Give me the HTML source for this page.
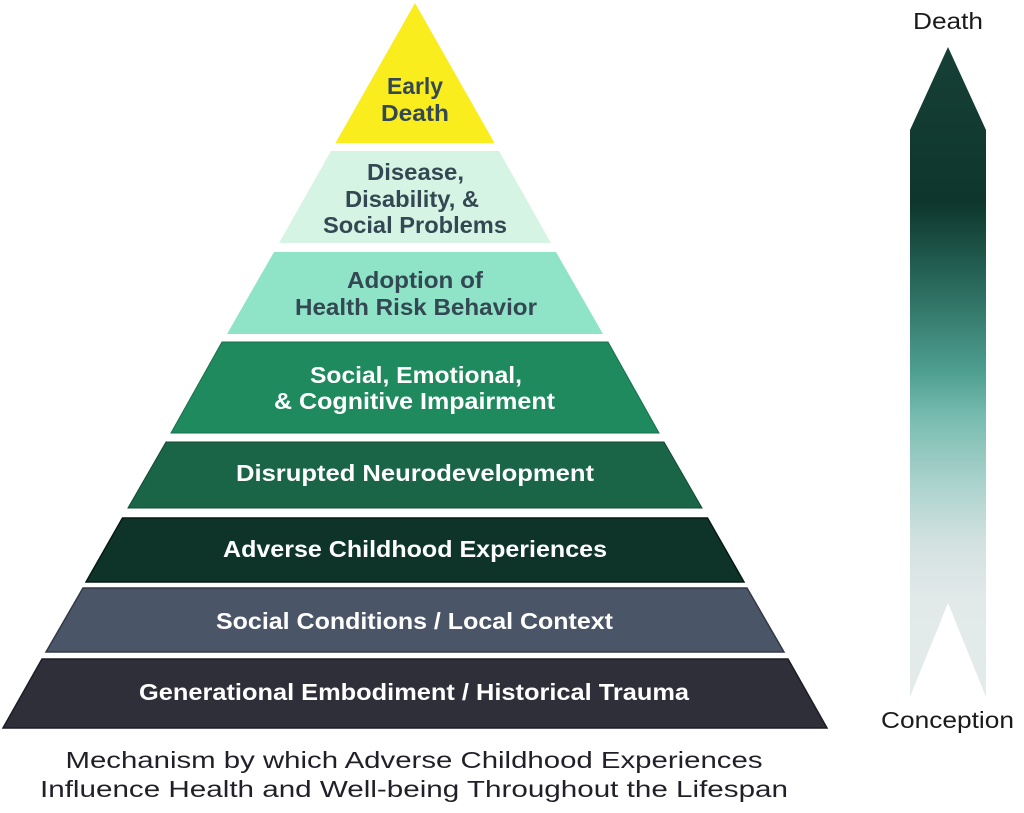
<!DOCTYPE html>
<html>
<head>
<meta charset="utf-8">
<style>
  html, body { margin: 0; padding: 0; background: #ffffff; }
  body { width: 1024px; height: 813px; overflow: hidden; }
  svg { display: block; }
  .lbl { font-family: "Liberation Sans", sans-serif; font-weight: bold; font-size: 23px; }
  .dk { fill: #334852; }
  .wt { fill: #ffffff; }
  .cap { font-family: "Liberation Sans", sans-serif; font-size: 23px; fill: #221f28; }
</style>
</head>
<body>
<svg width="1024" height="813" viewBox="0 0 1024 813" xmlns="http://www.w3.org/2000/svg">
  <defs>
    <linearGradient id="arr" x1="0" y1="47" x2="0" y2="697" gradientUnits="userSpaceOnUse">
      <stop offset="0" stop-color="#163f35"/>
      <stop offset="0.24" stop-color="#0e362c"/>
      <stop offset="0.37" stop-color="#2a6b5e"/>
      <stop offset="0.50" stop-color="#4f9f91"/>
      <stop offset="0.57" stop-color="#78bcb0"/>
      <stop offset="0.67" stop-color="#aad2cc"/>
      <stop offset="0.76" stop-color="#d2e1e0"/>
      <stop offset="0.85" stop-color="#e2e9e9"/>
      <stop offset="1" stop-color="#e4ebeb"/>
    </linearGradient>
  </defs>

  <!-- Pyramid layers -->
  <polygon points="415,3 494.5,143 335.5,143" fill="#f9ed1e"/>
  <polygon points="331,151 499,151 551,243 279,243" fill="#d5f4e4"/>
  <polygon points="274,252 556,252 603,334 227,334" fill="#8fe4c8"/>
  <polygon points="222,342 608,342 659,433 171,433" fill="#1e8a5e" stroke="#17704c" stroke-width="1"/>
  <polygon points="166,442 664,442 702,508 128,508" fill="#1a6447" stroke="#114a33" stroke-width="1"/>
  <polygon points="122.5,518 707.5,518 744,582 86,582" fill="#0e3429" stroke="#061a14" stroke-width="1.5"/>
  <polygon points="83,588 747,588 784,652 46,652" fill="#4a5568" stroke="#323a48" stroke-width="1.5"/>
  <polygon points="42,659 788,659 827,728 3,728" fill="#2f2f3a" stroke="#1c1c24" stroke-width="1.5"/>

  <!-- Layer labels -->
  <g class="lbl" text-anchor="middle">
    <text class="dk" x="415" y="94" textLength="56" lengthAdjust="spacingAndGlyphs">Early</text>
    <text class="dk" x="415" y="121" textLength="68" lengthAdjust="spacingAndGlyphs">Death</text>

    <text class="dk" x="415.5" y="180" textLength="97" lengthAdjust="spacingAndGlyphs">Disease,</text>
    <text class="dk" x="412" y="207" textLength="134" lengthAdjust="spacingAndGlyphs">Disability, &amp;</text>
    <text class="dk" x="415" y="233" textLength="184" lengthAdjust="spacingAndGlyphs">Social Problems</text>

    <text class="dk" x="415" y="288" textLength="136" lengthAdjust="spacingAndGlyphs">Adoption of</text>
    <text class="dk" x="416" y="315" textLength="242" lengthAdjust="spacingAndGlyphs">Health Risk Behavior</text>

    <text class="wt" x="416" y="383" textLength="212" lengthAdjust="spacingAndGlyphs">Social, Emotional,</text>
    <text class="wt" x="414.5" y="409" textLength="281" lengthAdjust="spacingAndGlyphs">&amp; Cognitive Impairment</text>

    <text class="wt" x="415" y="481" textLength="358" lengthAdjust="spacingAndGlyphs">Disrupted Neurodevelopment</text>
    <text class="wt" x="415" y="557" textLength="384" lengthAdjust="spacingAndGlyphs">Adverse Childhood Experiences</text>
    <text class="wt" x="414.5" y="629" textLength="397" lengthAdjust="spacingAndGlyphs">Social Conditions / Local Context</text>
    <text class="wt" x="414" y="700" textLength="550" lengthAdjust="spacingAndGlyphs">Generational Embodiment / Historical Trauma</text>
  </g>

  <!-- Caption -->
  <g class="cap" text-anchor="middle">
    <text x="414" y="768" textLength="697" lengthAdjust="spacingAndGlyphs">Mechanism by which Adverse Childhood Experiences</text>
    <text x="414" y="797" textLength="748" lengthAdjust="spacingAndGlyphs">Influence Health and Well-being Throughout the Lifespan</text>
  </g>

  <!-- Lifespan arrow -->
  <polygon points="910,130 948,47 986,130 986,697 948,603 910,697" fill="url(#arr)"/>
  <text x="948" y="29" text-anchor="middle" font-family="Liberation Sans, sans-serif" font-size="23" fill="#1a1a1a" textLength="70" lengthAdjust="spacingAndGlyphs">Death</text>
  <text x="947.5" y="728" text-anchor="middle" font-family="Liberation Sans, sans-serif" font-size="23" fill="#1a1a1a" textLength="133" lengthAdjust="spacingAndGlyphs">Conception</text>
</svg>
</body>
</html>
